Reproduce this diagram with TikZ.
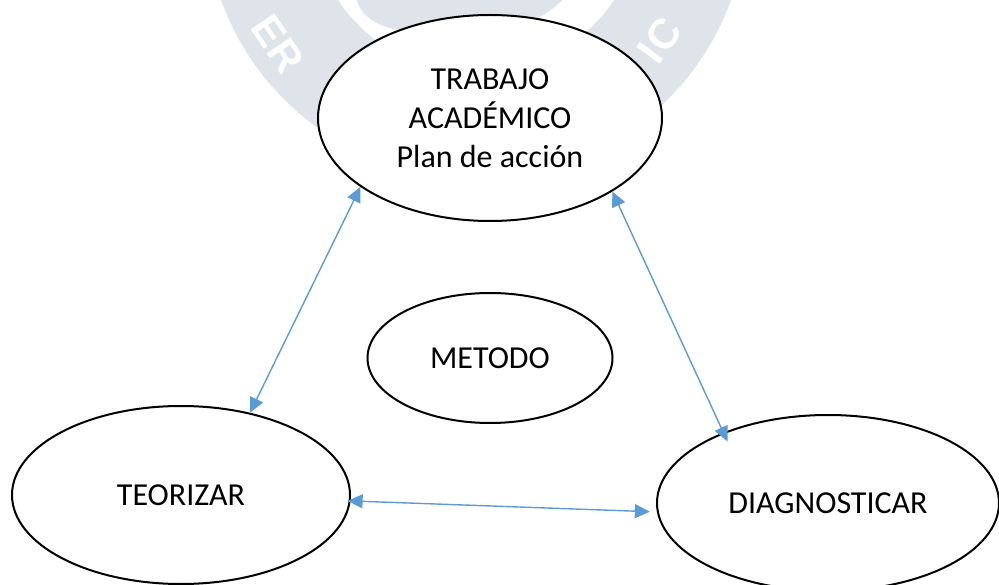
\documentclass[tikz,border=0pt]{standalone}
\usepackage{fontspec}
\setmainfont{Carlito}
\newfontfamily\wmfont{Liberation Sans}
\usetikzlibrary{shapes.geometric,arrows.meta}
\definecolor{wmgray}{RGB}{223,227,234}
\definecolor{linkblue}{RGB}{91,155,213}
\tikzset{
  bubble/.style={ellipse, draw=black, line width=2pt, fill=white, inner sep=0pt,
    align=center, font=\fontsize{32}{39}\selectfont},
  conn/.style={draw=linkblue, line width=1.4pt,
    {Triangle[length=15pt,width=14pt]}-{Triangle[length=15pt,width=14pt]}},
  wmletter/.style={text=white, font=\wmfont\bfseries\fontsize{42}{42}\selectfont, inner sep=0pt}
}
\begin{document}
\begin{tikzpicture}[x=1pt,y=-1pt]
\useasboundingbox (0,0) rectangle (999,585);
% faint watermark seal
\begin{scope}
  \clip (0,0) rectangle (999,585);
  \fill[wmgray, even odd rule] (476,-92) circle[radius=271] (476,-92) circle[radius=166];
  \fill[wmgray] (357,0) .. controls (362,22) and (392,34) .. (425,30)
     .. controls (470,36) and (530,34) .. (562,0) -- cycle;
  \node[wmletter, rotate=-56] (wmER) at (278,44) {E\kern2pt R};
  \node[wmletter, rotate=54] (wmIC) at (660,40) {I\kern2pt C};
\end{scope}
% nodes
\node[bubble, minimum width=344pt, minimum height=206pt] (top) at (490,118)
  {TRABAJO\\ACADÉMICO\\Plan de acción};
\node[bubble, minimum width=245pt, minimum height=130pt] (met) at (490,358) {METODO};
\node[bubble, minimum width=338pt, minimum height=178pt] (teo) at (181,495) {TEORIZAR};
\node[bubble, minimum width=342pt, minimum height=176pt] (diag) at (828,503) {DIAGNOSTICAR};
% connectors
\draw[conn] (teo.50) -- (top.208);
\draw[conn, shorten >=-10pt] (top.-31) -- (diag.146);
\draw[conn, shorten <=-3pt, shorten >=7pt] (teo.-2) -- (diag.183);
\end{tikzpicture}
\end{document}
